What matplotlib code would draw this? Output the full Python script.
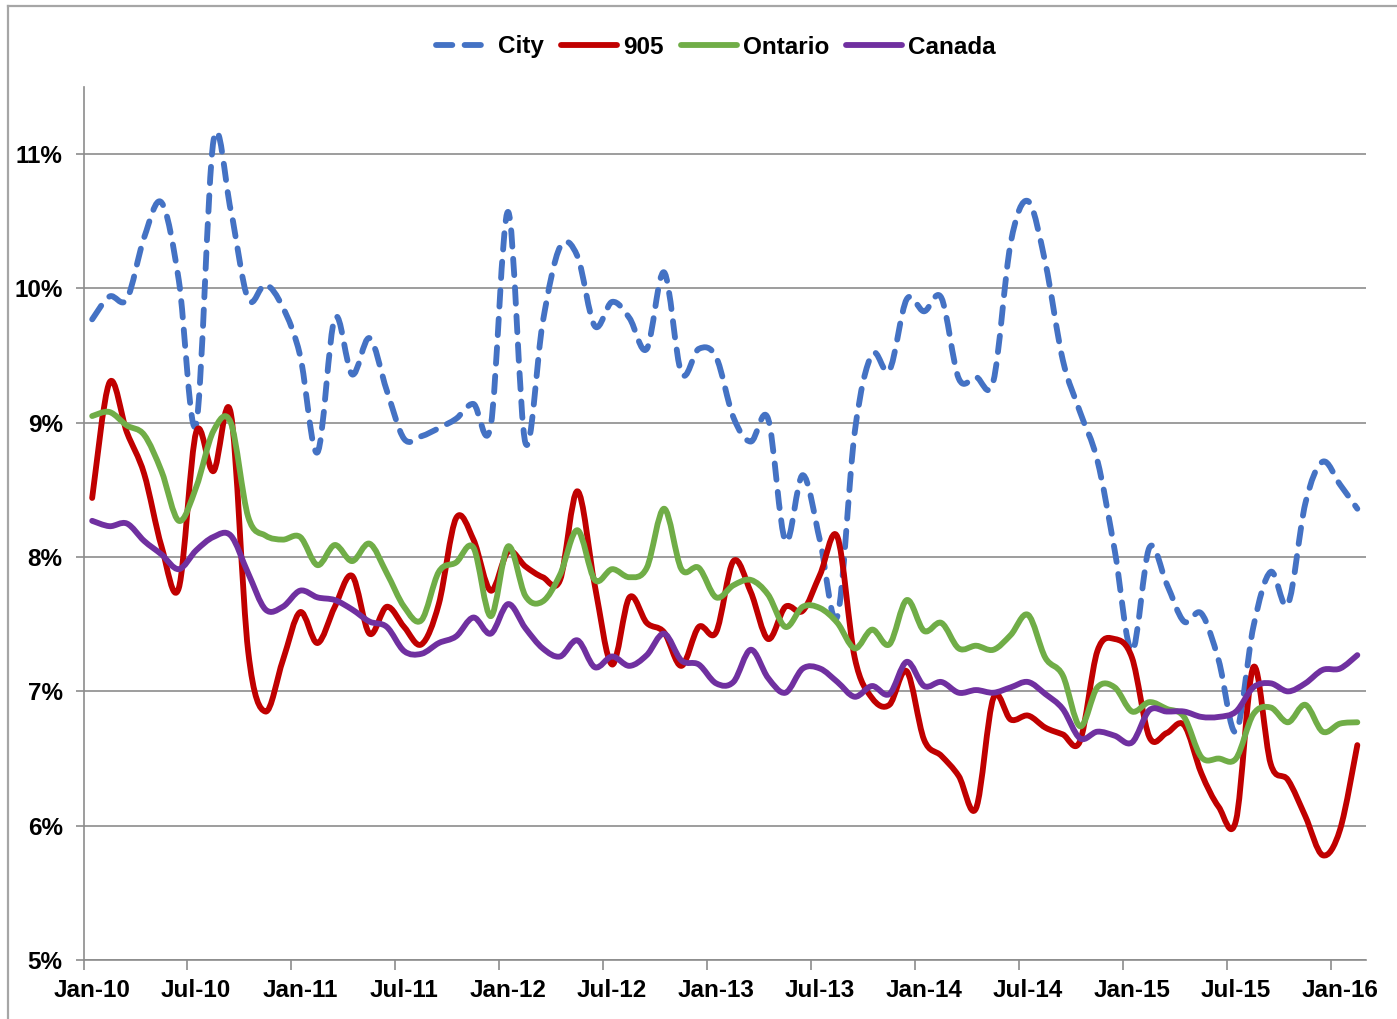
import numpy as np
import matplotlib
matplotlib.use("Agg")
import matplotlib.pyplot as plt
from matplotlib.path import Path
from matplotlib.patches import PathPatch
from matplotlib.lines import Line2D

# monthly values, Jan-10 .. Feb-16 (74 months), in %
months = ["Jan-10", "Jul-10", "Jan-11", "Jul-11", "Jan-12", "Jul-12", "Jan-13",
          "Jul-13", "Jan-14", "Jul-14", "Jan-15", "Jul-15", "Jan-16"]

city = [9.77, 9.94, 9.92, 10.38, 10.64, 10.06, 8.99, 11.10, 10.58, 9.92, 10.03, 9.86,
        9.50, 8.78, 9.78, 9.36, 9.63, 9.24, 8.88, 8.90, 8.96, 9.03, 9.14, 8.98,
        10.57, 8.85, 9.75, 10.31, 10.24, 9.72, 9.90, 9.78, 9.55, 10.12, 9.37, 9.55,
        9.49, 9.04, 8.86, 9.03, 8.12, 8.61, 8.12, 7.56, 8.93, 9.51, 9.39, 9.92,
        9.83, 9.93, 9.33, 9.34, 9.31, 10.34, 10.65, 10.19, 9.47, 9.08, 8.72, 8.05,
        7.30, 8.07, 7.80, 7.52, 7.58, 7.23, 6.70, 7.48, 7.89, 7.65, 8.40, 8.71,
        8.54, 8.36]

r905 = [8.44, 9.30, 8.93, 8.62, 8.08, 7.77, 8.93, 8.64, 9.07, 7.30, 6.85, 7.23,
        7.59, 7.36, 7.63, 7.86, 7.43, 7.63, 7.48, 7.35, 7.65, 8.29, 8.13, 7.75,
        8.04, 7.93, 7.85, 7.83, 8.49, 7.79, 7.20, 7.70, 7.51, 7.44, 7.19, 7.48,
        7.44, 7.97, 7.74, 7.39, 7.63, 7.60, 7.87, 8.15, 7.25, 6.95, 6.90, 7.15,
        6.64, 6.52, 6.37, 6.13, 6.95, 6.79, 6.82, 6.73, 6.68, 6.63, 7.30, 7.39,
        7.25, 6.66, 6.69, 6.75, 6.39, 6.14, 6.04, 7.18, 6.46, 6.34, 6.07, 5.78,
        5.97, 6.60]

ontario = [9.05, 9.08, 8.98, 8.91, 8.64, 8.27, 8.52, 8.94, 9.00, 8.30, 8.16, 8.13,
           8.15, 7.94, 8.09, 7.97, 8.10, 7.88, 7.63, 7.53, 7.89, 7.96, 8.07, 7.56,
           8.08, 7.71, 7.67, 7.87, 8.20, 7.83, 7.91, 7.85, 7.92, 8.36, 7.91, 7.92,
           7.70, 7.79, 7.83, 7.72, 7.48, 7.63, 7.62, 7.51, 7.32, 7.46, 7.35, 7.68,
           7.45, 7.51, 7.32, 7.34, 7.31, 7.42, 7.57, 7.25, 7.12, 6.74, 7.03, 7.03,
           6.85, 6.92, 6.87, 6.81, 6.51, 6.50, 6.50, 6.83, 6.88, 6.77, 6.90, 6.70,
           6.76, 6.77]

canada = [8.27, 8.23, 8.25, 8.12, 8.02, 7.91, 8.05, 8.15, 8.16, 7.88, 7.61, 7.63,
          7.75, 7.70, 7.68, 7.61, 7.52, 7.48, 7.30, 7.28, 7.36, 7.41, 7.55, 7.43,
          7.65, 7.47, 7.32, 7.26, 7.38, 7.18, 7.26, 7.19, 7.27, 7.43, 7.23, 7.20,
          7.06, 7.07, 7.31, 7.10, 6.99, 7.17, 7.17, 7.07, 6.96, 7.04, 6.98, 7.22,
          7.04, 7.07, 6.99, 7.01, 6.99, 7.03, 7.07, 6.98, 6.87, 6.65, 6.70, 6.67,
          6.62, 6.86, 6.85, 6.85, 6.81, 6.81, 6.85, 7.03, 7.06, 7.00, 7.06, 7.16,
          7.17, 7.27]

series = [("City", city, "#4472C4", True),
          ("905", r905, "#C00000", False),
          ("Ontario", ontario, "#70AD47", False),
          ("Canada", canada, "#7030A0", False)]


def smooth_path(x, y):
    # Excel-like smoothed line: Catmull-Rom segments as cubic Beziers
    pts = np.column_stack([x, y])
    ext = np.vstack([pts[0], pts, pts[-1]])
    verts = [pts[0]]
    codes = [Path.MOVETO]
    for k in range(len(pts) - 1):
        p0, p1, p2, p3 = ext[k], ext[k + 1], ext[k + 2], ext[k + 3]
        verts += [p1 + (p2 - p0) / 6, p2 - (p3 - p1) / 6, p2]
        codes += [Path.CURVE4] * 3
    return Path(verts, codes)


plt.rcParams['font.family'] = ['Liberation Sans', 'DejaVu Sans']
plt.rcParams['font.weight'] = 'bold'

W, H = 1397, 1019
fig = plt.figure(figsize=(W / 100, H / 100), dpi=100)
ax = fig.add_axes([83.5 / W, 1 - 960 / H, (1366 - 83.5) / W, (960 - 87) / H])

grid_c = "#8C8C8C"
lw = 4.2
dash = (0, (2.8, 2.1))
handles = []
for name, vals, col, dashed in series:
    x = np.arange(len(vals))
    ls = dash if dashed else "solid"
    patch = PathPatch(smooth_path(x, np.array(vals)), fill=False, edgecolor=col,
                      linewidth=lw, linestyle=ls, capstyle="round", joinstyle="round")
    ax.add_patch(patch)
    handles.append(Line2D([], [], color=col, lw=lw, linestyle=ls,
                          solid_capstyle="round", dash_capstyle="round"))

ax.set_xlim(-0.5, 73.5)
ax.set_ylim(5, 11.5)

ax.set_yticks(np.arange(5, 12, 1))
ax.set_yticklabels(["%d%%" % v for v in range(5, 12)])
ax.yaxis.grid(True, color=grid_c, linewidth=1.2)
ax.set_axisbelow(True)

ax.set_xticks(np.arange(-0.5, 74, 6))
ax.set_xticklabels([])
ax.set_xticks(np.arange(0, 74, 6), minor=True)
ax.set_xticklabels(months, minor=True)
ax.tick_params(axis="x", which="major", length=7, width=1.2, color=grid_c)
ax.tick_params(axis="x", which="minor", length=0, pad=14, labelsize=17.5)
ax.tick_params(axis="y", length=6, width=1.2, color=grid_c, pad=9, labelsize=17.5)

for s in ["top", "right"]:
    ax.spines[s].set_visible(False)
for s in ["left", "bottom"]:
    ax.spines[s].set_color(grid_c)
    ax.spines[s].set_linewidth(1.2)

fig.legend(handles, [s[0] for s in series], loc="center",
           bbox_to_anchor=(716 / W, 1 - 47 / H), ncol=4, frameon=False,
           handlelength=2.3, handletextpad=0.25, columnspacing=0.7,
           prop={"size": 17.5, "weight": "bold"})

# chart area border (cropped on right and bottom)
fig.add_artist(Line2D([8 / W, 1], [1 - 6 / H, 1 - 6 / H], transform=fig.transFigure,
                      color="#A6A6A6", lw=1.6))
fig.add_artist(Line2D([8 / W, 8 / W], [0, 1 - 6 / H], transform=fig.transFigure,
                      color="#A6A6A6", lw=1.6))

fig.savefig("out.png", dpi=100)
